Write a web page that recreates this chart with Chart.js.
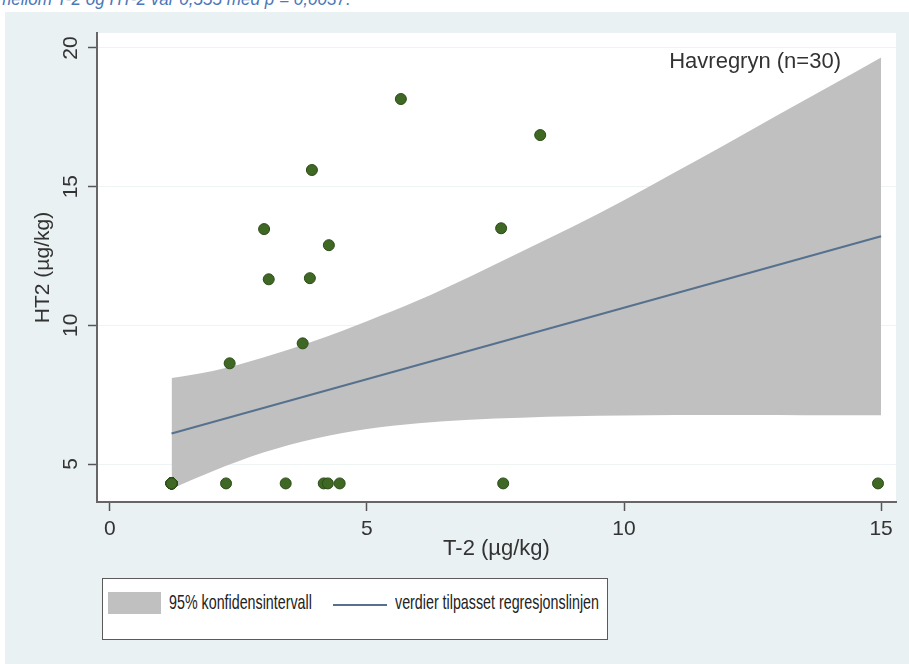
<!DOCTYPE html>
<html>
<head>
<meta charset="utf-8">
<script src="https://cdn.jsdelivr.net/npm/chart.js@4.4.0/dist/chart.umd.min.js"></script>
<style>
body { margin:0; width:909px; height:664px; overflow:hidden; background:#fff; position:relative; font-family:"Liberation Sans", Arial, sans-serif; }
#topline { position:absolute; left:-3px; top:-11px; line-height:20px; font-size:19px; font-style:italic; color:#4a78b8; white-space:nowrap; transform:scaleX(0.9); transform-origin:0 0; }
#panel { position:absolute; left:5px; top:12px; right:0; bottom:0; background:#eaf1f3; }
#wrap { position:absolute; left:0; top:0; width:909px; height:570px; }
#legend { position:absolute; left:102px; top:578px; width:506px; height:62px; box-sizing:border-box; background:#fff; border:1.5px solid #5a5a5a; }
#legend .sw { position:absolute; left:4.5px; top:12.5px; width:53px; height:22px; background:#c0c0c0; }
#legend .ln { position:absolute; left:229.5px; top:24.5px; width:54px; height:2px; background:#56718e; }
#legend .lt { position:absolute; top:11px; font-size:21px; line-height:24px; color:#222; white-space:nowrap; transform:scaleX(0.68); transform-origin:0 0; }
</style>
</head>
<body>
<div id="topline">mellom T-2 og HT-2 var 0,555 med p = 0,0037.</div>
<div id="panel"></div>
<div id="wrap"><canvas id="scatterChart" width="909" height="570"></canvas></div>
<div id="legend">
  <div class="sw"></div><div class="lt" style="left:65.5px">95% konfidensintervall</div>
  <div class="ln"></div><div class="lt" style="left:291.5px">verdier tilpasset regresjonslinjen</div>
</div>
<script>
// målinger T-2 / HT2 (µg/kg), havregryn n=30
const t2Values = [1.2, 1.2, 1.2, 1.2, 1.2, 1.2, 1.2, 1.2, 1.2, 1.2, 1.2, 1.2, 1.2,
    2.26, 3.42, 4.16, 4.24, 4.47, 7.65, 14.94,
    2.33, 3.0, 3.09, 3.75, 3.89, 3.93, 4.26, 5.66, 7.61, 8.37];
const ht2Values = [4.3, 4.3, 4.3, 4.3, 4.3, 4.3, 4.3, 4.3, 4.3, 4.3, 4.3, 4.3, 4.3,
    4.3, 4.3, 4.3, 4.3, 4.3, 4.3, 4.3,
    8.63, 13.47, 11.66, 9.35, 11.7, 15.6, 12.89, 18.16, 13.5, 16.86];

// konfidensbånd
const ciX = [1.2, 1.6, 2, 3, 4, 5, 6, 7, 8, 9, 10, 11, 12, 13, 14, 15];
const ciUpper = [8.1, 8.22, 8.35, 8.85, 9.45, 10.15, 10.9, 11.75, 12.65, 13.55, 14.51, 15.53, 16.55, 17.59, 18.62, 19.66];
const ciLower = [4.1, 4.43, 4.74, 5.42, 5.92, 6.26, 6.47, 6.6, 6.67, 6.72, 6.75, 6.77, 6.77, 6.77, 6.76, 6.76];

// regresjonslinje
const fitX = [1.2, 15];
const fitY = [6.1, 13.21];

const xTicks = [0, 5, 10, 15];
const yTicks = [5, 10, 15, 20];

const font = '"Liberation Sans", Arial, sans-serif';
const toXY = (xs, ys) => xs.map((x, i) => ({x: x, y: ys[i]}));

const plotExtras = {
    id: 'plotExtras',
    beforeDraw(chart) {
        const {ctx, chartArea: a} = chart;
        ctx.save();
        ctx.fillStyle = '#fff';
        ctx.fillRect(a.left, a.top, a.right - a.left, a.bottom - a.top);
        ctx.restore();
    },
    afterDraw(chart) {
        const {ctx, chartArea: a} = chart;
        const y = chart.scales.y;
        ctx.save();
        ctx.fillStyle = '#333';
        ctx.font = '21px ' + font;
        ctx.textAlign = 'center';
        ctx.textBaseline = 'middle';
        //etiketter på y-aksen står loddrett
        y.ticks.forEach(t => {
            ctx.save();
            ctx.translate(71, y.getPixelForValue(t.value));
            ctx.rotate(-Math.PI / 2);
            ctx.fillText(String(t.value), 0, 0);
            ctx.restore();
        });
        ctx.font = '22px ' + font;
        ctx.textAlign = 'right';
        ctx.fillText('Havregryn (n=30)', a.right - 55, a.top + 29);
        ctx.restore();
    }
};

new Chart(document.getElementById('scatterChart'), {
    type: 'scatter',
    data: {
        datasets: [
            {
                label: 'ci_upper',
                data: toXY(ciX, ciUpper),
                showLine: true,
                borderWidth: 0,
                borderColor: 'rgba(0,0,0,0)',
                pointRadius: 0,
                cubicInterpolationMode: 'monotone',
                fill: false,
                order: 3
            },
            {
                label: '95% konfidensintervall',
                data: toXY(ciX, ciLower),
                showLine: true,
                borderWidth: 0,
                borderColor: 'rgba(0,0,0,0)',
                backgroundColor: '#c0c0c0',
                pointRadius: 0,
                cubicInterpolationMode: 'monotone',
                fill: '-1',
                order: 2
            },
            {
                label: 'verdier tilpasset regresjonslinjen',
                data: toXY(fitX, fitY),
                showLine: true,
                borderColor: '#56718e',
                borderWidth: 2,
                pointRadius: 0,
                order: 1
            },
            {
                label: 'HT2',
                data: toXY(t2Values, ht2Values),
                backgroundColor: '#3e6824',
                borderColor: '#2c4d17',
                borderWidth: 1,
                pointRadius: 5.5,
                order: 0
            }
        ]
    },
    options: {
        responsive: false,
        animation: false,
        layout: { padding: { left: 0, top: 33, right: 13, bottom: 0 } },
        plugins: {
            legend: { display: false },
            tooltip: { enabled: false }
        },
        scales: {
            x: {
                type: 'linear',
                min: -0.25,
                max: 15.29,
                afterFit: s => { s.height = 68; },
                afterBuildTicks: s => { s.ticks = xTicks.map(v => ({value: v})); },
                grid: { drawOnChartArea: false, drawTicks: true, tickLength: 9, tickColor: '#555', tickWidth: 1.5 },
                border: { color: '#666', width: 2 },
                ticks: { color: '#333', font: { size: 21, family: font }, padding: 6, maxRotation: 0 },
                title: { display: true, text: 'T-2 (µg/kg)', color: '#333', font: { size: 22, family: font }, padding: { top: 0, bottom: 8 } }
            },
            y: {
                type: 'linear',
                min: 3.63,
                max: 20.54,
                afterFit: s => { s.width = 97; },
                afterBuildTicks: s => { s.ticks = yTicks.map(v => ({value: v})); },
                grid: { color: '#eef3f4', lineWidth: 1, drawTicks: true, tickLength: 9, tickColor: '#555', tickWidth: 1.5 },
                border: { color: '#666', width: 2 },
                ticks: { display: false },
                title: { display: true, text: 'HT2 (µg/kg)', color: '#333', font: { size: 21, family: font }, padding: { top: 31, bottom: 0 } }
            }
        }
    },
    plugins: [plotExtras]
});
</script>
</body>
</html>
